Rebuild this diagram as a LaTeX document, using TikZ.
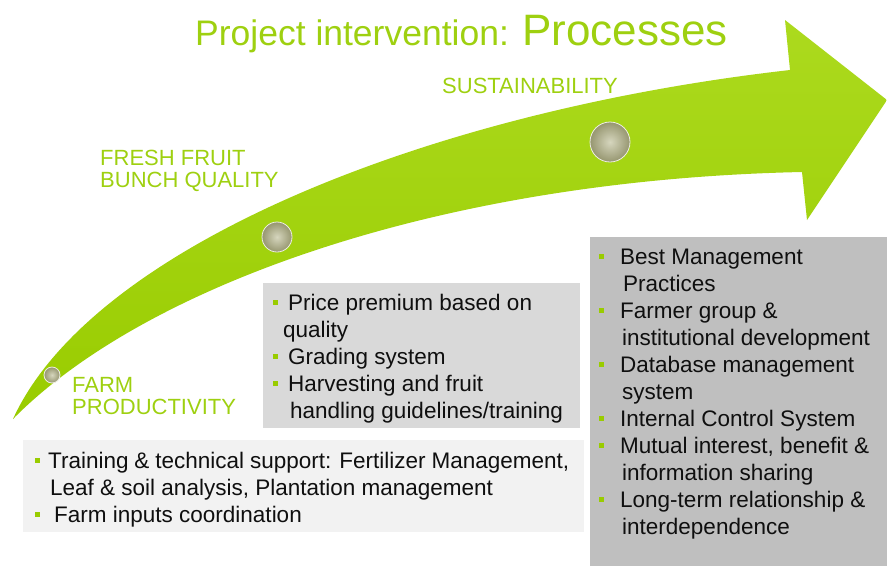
\documentclass[tikz,border=0pt]{standalone}
\usepackage{fontspec}
\setmainfont{Liberation Sans}
\usetikzlibrary{positioning}
\definecolor{arrowgreen}{RGB}{153,204,0}
\definecolor{arrowlight}{RGB}{172,218,30}
\definecolor{labelgreen}{RGB}{158,208,16}
\definecolor{ballinner}{RGB}{214,214,190}
\definecolor{ballouter}{RGB}{150,150,112}
\definecolor{boxlight}{RGB}{242,242,242}
\definecolor{boxmid}{RGB}{217,217,217}
\definecolor{boxdark}{RGB}{191,191,191}
\definecolor{bodytext}{RGB}{15,15,15}
\newcommand{\bul}{\textcolor{arrowgreen}{\raisebox{5.5pt}{\rule{5pt}{5pt}}}}
\tikzstyle{stage} = [inner sep=0pt, anchor=base west, align=left, text=labelgreen, font=\fontsize{22}{22}\selectfont]
\tikzstyle{ball} = [circle, inner sep=0pt, inner color=ballinner, outer color=ballouter, draw=white!55!ballinner, line width=0.8pt]
\tikzstyle{list} = [inner sep=0pt, anchor=base west, text=bodytext, font=\fontsize{22.5}{27}\selectfont]

\begin{document}
\begin{tikzpicture}[x=1pt, y=-1pt]
	\useasboundingbox (0,0) rectangle (887,566);

	\shade[top color=arrowlight, bottom color=arrowgreen] (13,419) .. controls (140,290) and (430,180) .. (802,172) -- (807,220) -- (887,100) -- (785,20) -- (790,70) .. controls (420,112) and (90,250) .. (13,419) -- cycle;

	\node[ball, minimum size=40pt] (b3) at (610,142) {};
	\node[ball, minimum size=30pt] (b2) at (277,237) {};
	\node[ball, minimum size=16pt] (b1) at (52,375) {};

	\node[stage, font=\fontsize{35.5}{36}\selectfont] (title) at (195,45) {Project intervention: {\fontsize{44}{44}\selectfont Processes}};
	\node[stage] (sust) at (442,93) {SUSTAINABILITY};
	\node[stage] (ffb) at (100,187) {FRESH FRUIT\\BUNCH QUALITY};
	\node[stage] (farm) at (72,414) {FARM\\PRODUCTIVITY};

	\fill[boxmid] (263,283) rectangle (580,428);
	\fill[boxlight] (23,440) rectangle (584,532);
	\fill[boxdark] (590,237) rectangle (887,566);

	\node[list] (listq) at (273,310) {\begin{tabular}[t]{@{}l@{\hspace{10pt}}l@{}}
		\bul & Price premium based on\\
		& \hspace{-5pt}quality\\
		\bul & Grading system\\
		\bul & Harvesting and fruit\\
		& \hspace{2pt}handling guidelines/training
	\end{tabular}};
	\node[list] (listp) at (35,468) {\begin{tabular}[t]{@{}l@{\hspace{8pt}}l@{}}
		\bul & \makebox[521pt][s]{Training \& technical support: Fertilizer Management,}\\
		& \hspace{2pt}Leaf \& soil analysis, Plantation management\\
		\bul & \hspace{6pt}Farm inputs coordination
	\end{tabular}};
	\node[list] (lists) at (599,264) {\begin{tabular}[t]{@{}l@{\hspace{16pt}}l@{}}
		\bul & Best Management\\
		& \hspace{3pt}Practices\\
		\bul & Farmer group \&\\
		& \hspace{2pt}institutional development\\
		\bul & Database management\\
		& \hspace{2pt}system\\
		\bul & Internal Control System\\
		\bul & Mutual interest, benefit \&\\
		& \hspace{2pt}information sharing\\
		\bul & Long-term relationship \&\\
		& \hspace{2pt}interdependence
	\end{tabular}};
\end{tikzpicture}
\end{document}
